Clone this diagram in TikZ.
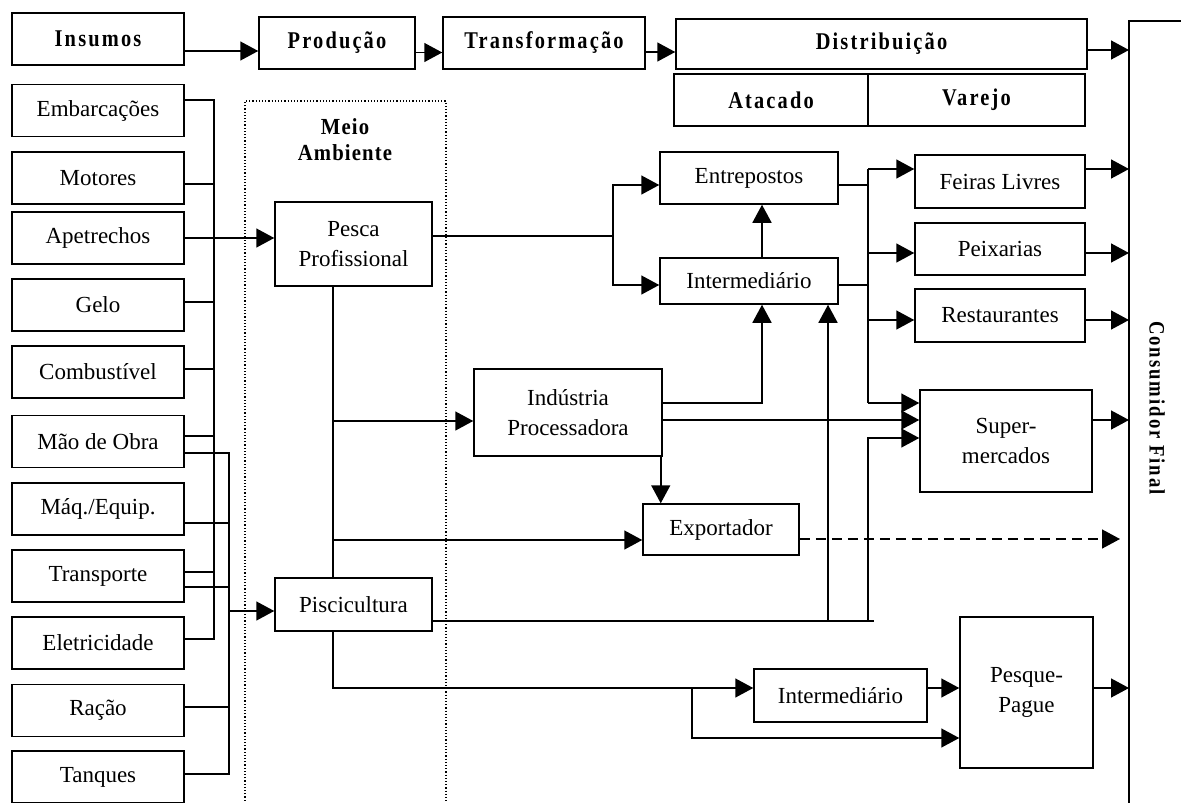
\documentclass[tikz,border=0pt]{standalone}
\usepackage{fontspec}
\setmainfont{Liberation Serif}
\usetikzlibrary{arrows.meta}

\begin{document}
\begin{tikzpicture}[x=1pt,y=-1pt,line width=1.5pt,
    box/.style={draw,inner sep=0pt,align=center,font=\fontsize{23}{30}\selectfont},
    hdr/.style={box,font=\fontsize{24}{27}\selectfont\bfseries\addfontfeature{FakeStretch=0.85,LetterSpace=9}},
    arr/.style={-{Triangle[length=18pt,width=19pt]}}]
    \useasboundingbox (0,0) rectangle (1181,803);
			% top row
			\node[hdr,minimum width=172pt,minimum height=52pt] (ins) at (98,39) {Insumos};
			\node[hdr,minimum width=156pt,minimum height=52pt] (prod) at (337,43) {Produção};
			\node[hdr,minimum width=202pt,minimum height=52pt] (transf) at (544,43) {Transformação};
			\node[hdr,minimum width=411pt,minimum height=50pt] (dist) at (881.5,44) {Distribuição};
			\node[hdr,minimum width=194pt,minimum height=52pt] (atac) at (771,100) {Atacado};
			\node[hdr,minimum width=217pt,minimum height=52pt] (var) at (976.5,100) {Varejo};
			\coordinate (cons) at (1129,21);
			\draw[] (1182,21)--(cons)--(1129,804);
			\node[hdr,draw=none,rotate=-90,font=\fontsize{22}{27}\selectfont\bfseries\addfontfeature{FakeStretch=0.85,LetterSpace=9}] (consT) at (1157,408) {Consumidor Final};
			\draw[arr] ([yshift=-12pt]ins.east)--([yshift=-12pt]ins.east -| prod.west);
			\draw[arr] ([yshift=-9.5pt]prod.east)--([yshift=-9.5pt]prod.east -| transf.west);
			\draw[arr] ([yshift=-9pt]transf.east)--([yshift=-9pt]transf.east -| dist.west);
			\draw[arr] ([yshift=-6pt]dist.east)--([yshift=-6pt]dist.east -| cons);
			% insumos
			\foreach \nm/\yy/\txt in {emb/110.5/Embarcações,mot/178/Motores,apet/238/Apetrechos,
				gelo/305/Gelo,comb/372/Combustível,mao/441.5/Mão de Obra,maq/509/{Máq./Equip.},
				transp/576/Transporte,elet/643/Eletricidade,racao/710.5/Ração,tanq/777/Tanques}
				\node[box,minimum width=172pt,minimum height=52pt] (\nm) at (98,\yy) {\txt};
			\foreach \nm/\dy in {emb/10.5,mot/-6,gelo/3,comb/3,mao/5.5,transp/4,elet/4}
				\draw[] ([yshift=\dy pt]\nm.east)--++(30,0);
			\foreach \nm/\dy in {mao/-11.5,maq/-14,transp/-11,racao/3.5,tanq/3}
				\draw[] ([yshift=\dy pt]\nm.east)--++(45,0);
			\draw[] (214,100)--(214,639);
			\draw[] (229,453)--(229,774);
			% meio ambiente
			\draw[line width=1.2pt,dash pattern=on 1.2pt off 2pt] (245,804) |- (446,101)--(446,804);
			\node[font=\fontsize{23}{26}\selectfont\bfseries\addfontfeature{FakeStretch=0.9,LetterSpace=5},align=center] (meio) at (345,140) {Meio\\Ambiente};
			\node[box,minimum width=157pt,minimum height=84pt] (pesca) at (353.5,244) {Pesca\\Profissional};
			\node[box,minimum width=157pt,minimum height=53pt] (pisc) at (353.5,604.5) {Piscicultura};
			\coordinate (pin) at (229,611);
			\draw[arr] (apet.east)--(apet.east -| pesca.west);
			\draw[arr] (pin)--(pin -| pisc.west);
			% canais
			\node[box,minimum width=178pt,minimum height=52pt] (ent) at (749,178) {Entrepostos};
			\node[box,minimum width=178pt,minimum height=46pt] (int1) at (749,281) {Intermediário};
			\node[box,minimum width=188pt,minimum height=87pt] (ind) at (568,412.5) {Indústria\\Processadora};
			\node[box,minimum width=156pt,minimum height=51pt] (exp) at (721,529.5) {Exportador};
			\node[box,minimum width=170pt,minimum height=53pt] (feiras) at (1000,181.5) {Feiras Livres};
			\node[box,minimum width=170pt,minimum height=52pt] (peix) at (1000,249) {Peixarias};
			\node[box,minimum width=170pt,minimum height=53pt] (rest) at (1000,315.5) {Restaurantes};
			\node[box,minimum width=172pt,minimum height=102pt] (super) at (1006,441) {Super-\\mercados};
			\node[box,minimum width=173pt,minimum height=53pt] (int2) at (840.5,695.5) {Intermediário};
			\node[box,minimum width=133pt,minimum height=151pt] (pp) at (1026.5,692.5) {Pesque-\\Pague};
			\coordinate (vx) at (333,0);
			\coordinate (sp) at (613,236);
			\coordinate (rb) at (868,0);
			\coordinate (ix) at (762,0);
			\coordinate (qa) at (828,0);
			\coordinate (px) at (874,621);
			\coordinate (br) at (692,688);
			% pesca profissional
			\draw[] (pesca.south -| vx)--(pisc.north -| vx);
			\draw[arr] ([yshift=-8.5pt]ind.west -| vx)--([yshift=-8.5pt]ind.west);
			\draw[arr] ([yshift=-10.5pt]exp.west -| vx)--([yshift=-10.5pt]exp.west);
			\draw[] ([yshift=8pt]pesca.east)--(sp);
			\draw[arr] (sp) |- ([yshift=-7pt]ent.west);
			\draw[arr] (sp) |- ([yshift=-4pt]int1.west);
			\draw[arr] (int1.north -| ix)--(ent.south -| ix);
			% atacado -> varejo
			\draw[] ([yshift=-7pt]ent.east)--([yshift=-7pt]ent.east -| rb);
			\draw[] ([yshift=-4pt]int1.east)--([yshift=-4pt]int1.east -| rb);
			\draw[] ([yshift=12.5pt]feiras.west -| rb)--([yshift=38pt]super.west -| rb);
			\draw[arr] ([yshift=12.5pt]feiras.west -| rb)--([yshift=12.5pt]feiras.west);
			\draw[arr] ([yshift=-4pt]peix.west -| rb)--([yshift=-4pt]peix.west);
			\draw[arr] ([yshift=-4.5pt]rest.west -| rb)--([yshift=-4.5pt]rest.west);
			\draw[arr] ([yshift=38pt]super.west -| rb)--([yshift=38pt]super.west);
			% industria
			\draw[arr] ([yshift=9.5pt]ind.east) -| (int1.south -| ix);
			\draw[arr] ([yshift=-7.5pt]ind.east)--([yshift=21pt]super.west);
			\draw[arr] ([xshift=-2pt]ind.south east)--([xshift=-2pt]ind.south east |- exp.north);
			% piscicultura
			\draw[] ([yshift=-16.5pt]pisc.east)--(px);
			\draw[arr] ([yshift=-16.5pt]pisc.east -| qa)--(int1.south -| qa);
			\draw[arr] ([yshift=-16.5pt]pisc.east -| rb) |- ([yshift=3pt]super.west);
			\draw[arr] (pisc.south -| vx) |- ([yshift=7.5pt]int2.west);
			\draw[arr] (br) |- ([yshift=-45.5pt]pp.west);
			\draw[arr] ([yshift=7.5pt]int2.east)--([yshift=7.5pt]int2.east -| pp.west);
			% consumidor final
			\draw[arr] ([yshift=12.5pt]feiras.east)--([yshift=12.5pt]feiras.east -| cons);
			\draw[arr] ([yshift=-4pt]peix.east)--([yshift=-4pt]peix.east -| cons);
			\draw[arr] ([yshift=-4.5pt]rest.east)--([yshift=-4.5pt]rest.east -| cons);
			\draw[arr] ([yshift=21pt]super.east)--([yshift=21pt]super.east -| cons);
			\draw[arr] ([yshift=4.5pt]pp.east)--([yshift=4.5pt]pp.east -| cons);
			\draw[arr,dash pattern=on 10pt off 6pt,shorten >=9pt] ([yshift=-9.5pt]exp.east)--([yshift=-9.5pt]exp.east -| cons);
		\end{tikzpicture}
\end{document}
